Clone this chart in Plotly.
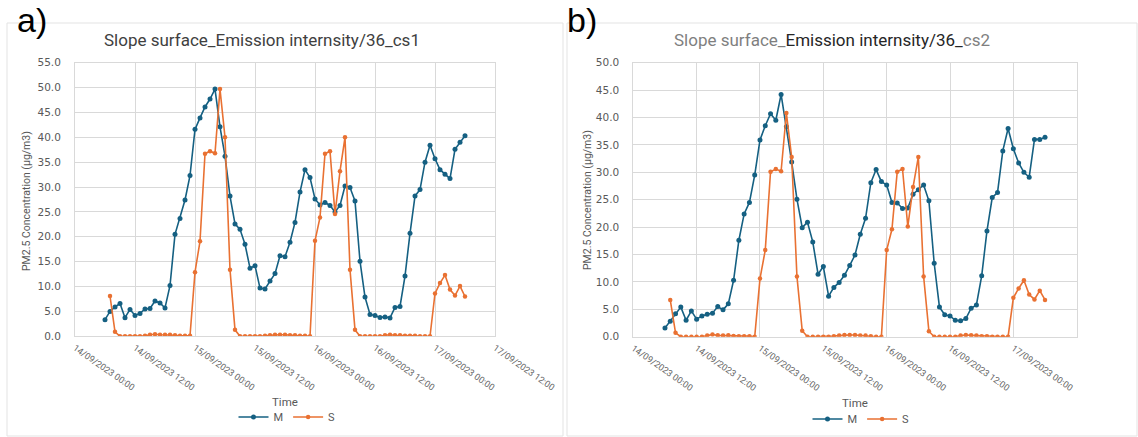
import pandas as pd
import plotly.graph_objects as go

# ---------------- data ----------------
time_m = pd.date_range("2023-09-14 06:00", periods=73, freq="h")
time_s = pd.date_range("2023-09-14 07:00", periods=72, freq="h")

cs1_M = [3.35, 5.0, 5.9, 6.6, 3.75, 5.4, 4.2, 4.6, 5.5, 5.6, 7.1, 6.7, 5.7,
         10.2, 20.5, 23.7, 27.4, 32.3, 41.6, 43.9, 46.1, 47.7, 49.7, 42.1, 36.2,
         28.2, 22.6, 21.5, 18.5, 13.7, 14.2, 9.7, 9.5, 11.1, 12.6, 16.2, 16.0,
         18.9, 22.9, 29.0, 33.5, 31.9, 27.6, 26.4, 26.9, 26.3, 25.0, 26.3, 30.2,
         29.9, 27.2, 15.1, 7.9, 4.4, 4.2, 3.8, 3.9, 3.7, 5.8, 6.0, 12.1, 20.7,
         28.2, 29.5, 35.0, 38.4, 35.7, 33.5, 32.6, 31.7, 37.6, 39.0, 40.3]
cs1_S = [8.1, 0.9, 0, 0, 0, 0, 0, 0.1, 0.3, 0.4, 0.3, 0.3, 0.3, 0.2, 0.1, 0.1, 0.1,
         12.9, 19.1, 36.7, 37.2, 36.8, 49.7, 40.0, 13.4, 1.3,
         0, 0, 0, 0, 0, 0.1, 0.2, 0.3, 0.3, 0.3, 0.2, 0.2, 0.1, 0.1, 0,
         19.2, 23.9, 36.7, 37.2, 24.6, 33.2, 40.0, 13.4, 1.3,
         0, 0, 0, 0, 0, 0.2, 0.3, 0.2, 0.2, 0.1, 0.1, 0.1, 0, 0, 0,
         8.6, 10.7, 12.3, 9.4, 8.2, 10.1, 8.0]
cs2_M = [1.6, 2.8, 4.2, 5.4, 3.0, 4.7, 3.2, 3.8, 4.1, 4.3, 5.5, 4.9, 6.0,
         10.3, 17.6, 22.4, 24.5, 29.5, 35.9, 38.5, 40.7, 39.5, 44.2, 38.3, 31.9,
         25.1, 19.9, 20.9, 17.3, 11.4, 12.8, 7.4, 9.0, 9.9, 11.2, 13.0, 14.9,
         18.7, 21.6, 28.1, 30.5, 28.3, 27.7, 24.5, 24.4, 23.4, 23.5, 26.0, 26.8,
         27.7, 24.8, 13.4, 5.4, 4.0, 3.8, 3.0, 2.9, 3.3, 5.2, 5.8, 11.1, 19.3,
         25.4, 26.3, 33.9, 38.0, 34.3, 31.7, 30.0, 29.1, 36.0, 36.0, 36.4]
cs2_S = [6.7, 0.7, 0, 0, 0, 0, 0, 0.2, 0.4, 0.25, 0.2, 0.25, 0.15, 0.1, 0.1, 0.1, 0,
         10.6, 15.8, 30.1, 30.6, 30.2, 40.8, 32.8, 11.0, 1.1,
         0, 0, 0, 0, 0, 0.1, 0.2, 0.3, 0.3, 0.3, 0.2, 0.2, 0.1, 0, 0,
         15.8, 19.6, 30.1, 30.6, 20.1, 27.3, 32.8, 11.0, 1.0,
         0, 0, 0, 0, 0, 0.2, 0.3, 0.25, 0.2, 0.1, 0.1, 0, 0, 0, 0,
         7.1, 8.8, 10.3, 7.7, 6.8, 8.4, 6.7]

x_range = ["2023-09-14 00:00", "2023-09-17 12:00"]
y_title = "PM2.5 Concentration (µg/m3)"
x_title = "Time"

# ---------------- layout helpers (reference frame 1138 x 437) ----------------
W, H = 1138, 437
def px(x):
    return x / W
def py(y):
    return 1 - y / H

C_M = "#156082"
C_S = "#E97132"
GRID = "#D9D9D9"
GRAY = "#595959"
FONT = "Roboto"
TICKFONT = "DejaVu Sans"

fig = go.Figure()

def add_series(x, y, name, color, xa, ya, legend, msize):
    fig.add_trace(go.Scatter(
        x=x, y=y, name=name, mode="lines+markers",
        line=dict(color=color, width=1.6),
        marker=dict(color=color, size=msize, symbol="circle"),
        xaxis=xa, yaxis=ya, legend=legend))

add_series(time_m, cs1_M, "M", C_M, "x", "y", "legend", 5)
add_series(time_s, cs1_S, "S", C_S, "x", "y", "legend", 4.5)
add_series(time_m, cs2_M, "M", C_M, "x2", "y2", "legend2", 5)
add_series(time_s, cs2_S, "S", C_S, "x2", "y2", "legend2", 4.5)

xcommon = dict(type="date", range=x_range, tick0="2023-09-14 00:00", dtick=43200000,
               tickformat="%d/%m/%Y %H:%M", tickangle=35,
               tickfont=dict(family=FONT, size=9, color="#666666"),
               showgrid=True, gridcolor=GRID, gridwidth=1,
               showline=True, linecolor=GRID, mirror=True, zeroline=False,
               ticks="", ticklabelstandoff=2)
ycommon = dict(dtick=5, tickformat=".1f",
               tickfont=dict(family=TICKFONT, size=10.5, color=GRAY),
               showgrid=True, gridcolor=GRID, gridwidth=1,
               showline=True, linecolor=GRID, mirror=True, zeroline=False,
               ticks="", ticklabelstandoff=11)

fig.update_layout(
    autosize=True,
    margin=dict(l=0, r=0, t=0, b=0, autoexpand=False),
    paper_bgcolor="white", plot_bgcolor="white",
    font=dict(family=FONT, color=GRAY),
    xaxis=dict(domain=[px(75), px(495)], anchor="y", **xcommon),
    yaxis=dict(domain=[py(336.3), py(62.7)], anchor="x", range=[0, 55], **ycommon),
    xaxis2=dict(domain=[px(633.3), px(1076.7)], anchor="y2", **xcommon),
    yaxis2=dict(domain=[py(336.7), py(62.7)], anchor="x2", range=[0, 50], **ycommon),
    legend=dict(orientation="h", x=px(287), xanchor="center", y=py(417), yanchor="middle",
                font=dict(family=FONT, size=11, color=GRAY), itemwidth=30,
                bgcolor="rgba(0,0,0,0)"),
    legend2=dict(orientation="h", x=px(861), xanchor="center", y=py(419), yanchor="middle",
                 font=dict(family=FONT, size=11, color=GRAY), itemwidth=30,
                 bgcolor="rgba(0,0,0,0)"),
    showlegend=True,
)

# panel borders
fig.add_shape(type="rect", xref="paper", yref="paper", x0=px(7), x1=px(563), y0=py(436), y1=py(23),
              line=dict(color="#E3E3E3", width=1), layer="below")
fig.add_shape(type="rect", xref="paper", yref="paper", x0=px(567), x1=px(1137), y0=py(436), y1=py(23),
              line=dict(color="#E3E3E3", width=1), layer="below")

ann = []
ann.append(dict(text="a)", x=px(16), y=py(0), xanchor="left", yanchor="top", borderpad=0,
                font=dict(family="Liberation Sans", size=34, color="black")))
ann.append(dict(text="b)", x=px(566), y=py(0), xanchor="left", yanchor="top", borderpad=0,
                font=dict(family="Liberation Sans", size=34, color="black")))
ann.append(dict(text="Slope surface_Emission internsity/36_cs1", x=px(262), y=py(40),
                font=dict(family=FONT, size=17, color="#404040")))
ann.append(dict(text="<span style='color:#7F7F7F'>Slope surface_</span>"
                     "<span style='color:#262626'>Emission internsity/36_</span>"
                     "<span style='color:#7F7F7F'>cs2</span>",
                x=px(832), y=py(40), font=dict(family=FONT, size=17, color="#404040")))
ann.append(dict(text=y_title, x=px(27), y=py(201), textangle=-90,
                font=dict(family=FONT, size=10.5, color=GRAY)))
ann.append(dict(text=y_title, x=px(587), y=py(200), textangle=-90,
                font=dict(family=FONT, size=10.5, color=GRAY)))
ann.append(dict(text=x_title, x=px(285), y=py(402), font=dict(family=FONT, size=11.5, color=GRAY)))
ann.append(dict(text=x_title, x=px(855), y=py(403), font=dict(family=FONT, size=11.5, color=GRAY)))

for a in ann:
    a.setdefault("xanchor", "center")
    a.setdefault("yanchor", "middle")
    a.update(xref="paper", yref="paper", showarrow=False)
    fig.add_annotation(**a)

css = "margin:0;padding:0;overflow:hidden;"
fig.write_html(
    "out.html",
    config={"displayModeBar": False, "responsive": True},
    default_width="100vw",
    default_height="100vh",
    post_script=("document.documentElement.style.cssText='" + css + "';"
                 "document.body.style.cssText='" + css + "';"
                 "window.dispatchEvent(new Event('resize'));"),
)
